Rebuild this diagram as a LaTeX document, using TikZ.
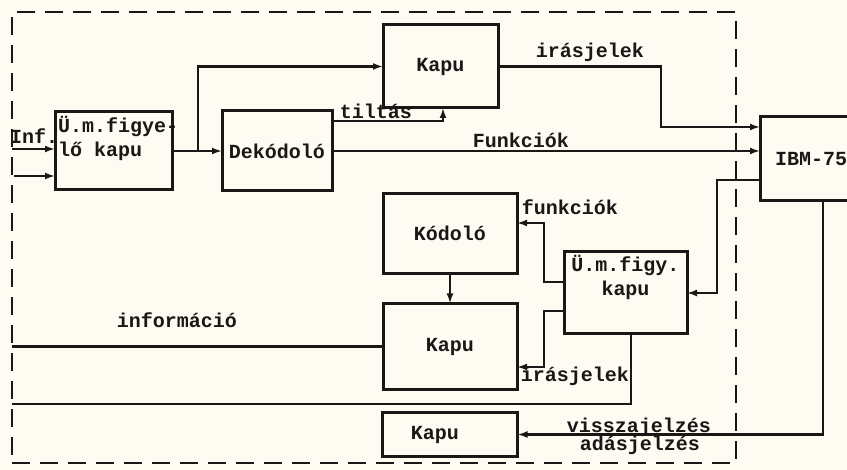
\documentclass[tikz,border=0pt]{standalone}
\usepackage{fontspec}
\setmainfont{Liberation Mono}
\usepackage{xcolor}
\definecolor{paper}{HTML}{FDFBF2}
\definecolor{ink}{HTML}{1A1816}
\usetikzlibrary{arrows.meta, positioning}
\tikzset{
  blk/.style ={rectangle, draw=ink, line width=3pt, inner sep=0pt, outer sep=0pt,
               text=ink, align=center, font=\bfseries\fontsize{20}{24}\selectfont},
  btxt/.style={text=ink, inner sep=0pt, align=center, font=\bfseries\fontsize{20}{24}\selectfont},
  wlbl/.style={btxt, anchor=base},
  wire/.style={draw=ink, line width=2.2pt},
  warr/.style={wire, -{Latex[length=10pt, width=7pt]}},
  frame/.style={draw=ink, line width=2.4pt, dash pattern=on 18pt off 10pt, inner sep=0pt, outer sep=0pt},
}

\begin{document}
\begin{tikzpicture}[x=1pt, y=-1pt]
  \fill[paper] (0,0) rectangle (847,470);
  \useasboundingbox (0,0) rectangle (847,470);
  \node[frame, minimum width=724pt, minimum height=451pt] (sys) at (374,237.5) {};
  % blocks
  \node[blk, minimum width=117pt, minimum height=78pt] (umf1) at (113.5,151) {};
  \node[btxt, anchor=north west, align=left] at ([xshift=3pt, yshift=-4pt]umf1.north west) {Ü.m.figye-\\lő kapu};
  \node[blk, minimum width=110pt, minimum height=80pt, right=50pt of umf1] (dek) {Dekódoló};
  \node[blk, minimum width=115pt, minimum height=83pt] (kapu1) at (440.5,66.5) {Kapu};
  \node[blk, minimum width=134pt, minimum height=80pt] (kod) at (450,233.5) {Kódoló};
  \node[blk, minimum width=134pt, minimum height=86pt, below=30pt of kod] (kapu2) {Kapu};
  \node[blk, minimum width=135pt, minimum height=44pt, below=23pt of kapu2] (kapu3) {};
  \node[btxt] at ([xshift=-15pt]kapu3.center) {Kapu};
  \node[blk, minimum width=123pt, minimum height=82pt] (umf2) at (625.5,293) {};
  \node[btxt, anchor=north] at ([yshift=-3pt]umf2.north) {Ü.m.figy.\\kapu};
  \node[blk, minimum width=102pt, minimum height=84pt] (ibm) at (811,159) {IBM-75};
  % inputs
  \coordinate (inf1) at (sys.west |- 0,149);
  \coordinate (inf2) at ([xshift=2pt]sys.west |- 0,176);
  \draw[warr] (inf1) -- (inf1 -| umf1.west);
  \draw[warr] (inf2) -- (inf2 -| umf1.west);
  \node[wlbl, anchor=base west] at (10,144) {Inf.};
  % upper part
  \draw[warr] (umf1.east) -- (dek.west);
  \coordinate (split) at (198,151);
  \draw[warr] (split) |- (kapu1.west);
  \draw[warr] (dek.east |- 0,121) -| ([xshift=2.5pt]kapu1.south);
  \node[wlbl] at (376,119) {tiltás};
  \draw[warr] (dek.east) -- (dek.east -| ibm.west);
  \node[wlbl] at (521,148) {Funkciók};
  \coordinate (b1) at (661,127);
  \draw[warr] (kapu1.east) -| (b1) -- (b1 -| ibm.west);
  \node[wlbl] at (590,58) {irásjelek};
  % lower part
  \coordinate (b2) at (717,293);
  \draw[warr] (ibm.west |- 0,180) -| (b2) -- (umf2.east);
  \coordinate (b3) at (544,223);
  \draw[warr] (umf2.west |- 0,282) -| (b3) -- (b3 -| kod.east);
  \node[wlbl] at (570,215) {funkciók};
  \coordinate (b4) at (544,367);
  \draw[warr] (umf2.west |- 0,311) -| (b4) -- (b4 -| kapu2.east);
  \node[wlbl] at (575,382) {irásjelek};
  \draw[warr] (kod.south) -- (kapu2.north);
  \draw[wire] (kapu2.west) -- (kapu2.west -| sys.west);
  \node[wlbl] at (177,328) {információ};
  \draw[wire] ([xshift=5.5pt]umf2.south) |- (sys.west |- 0,404);
  \draw[warr] (ibm.south -| 823,0) |- (kapu3.east);
  \node[wlbl] at (639,433) {visszajelzés};
  \node[wlbl] at (640,451) {adásjelzés};
\end{tikzpicture}
\end{document}
